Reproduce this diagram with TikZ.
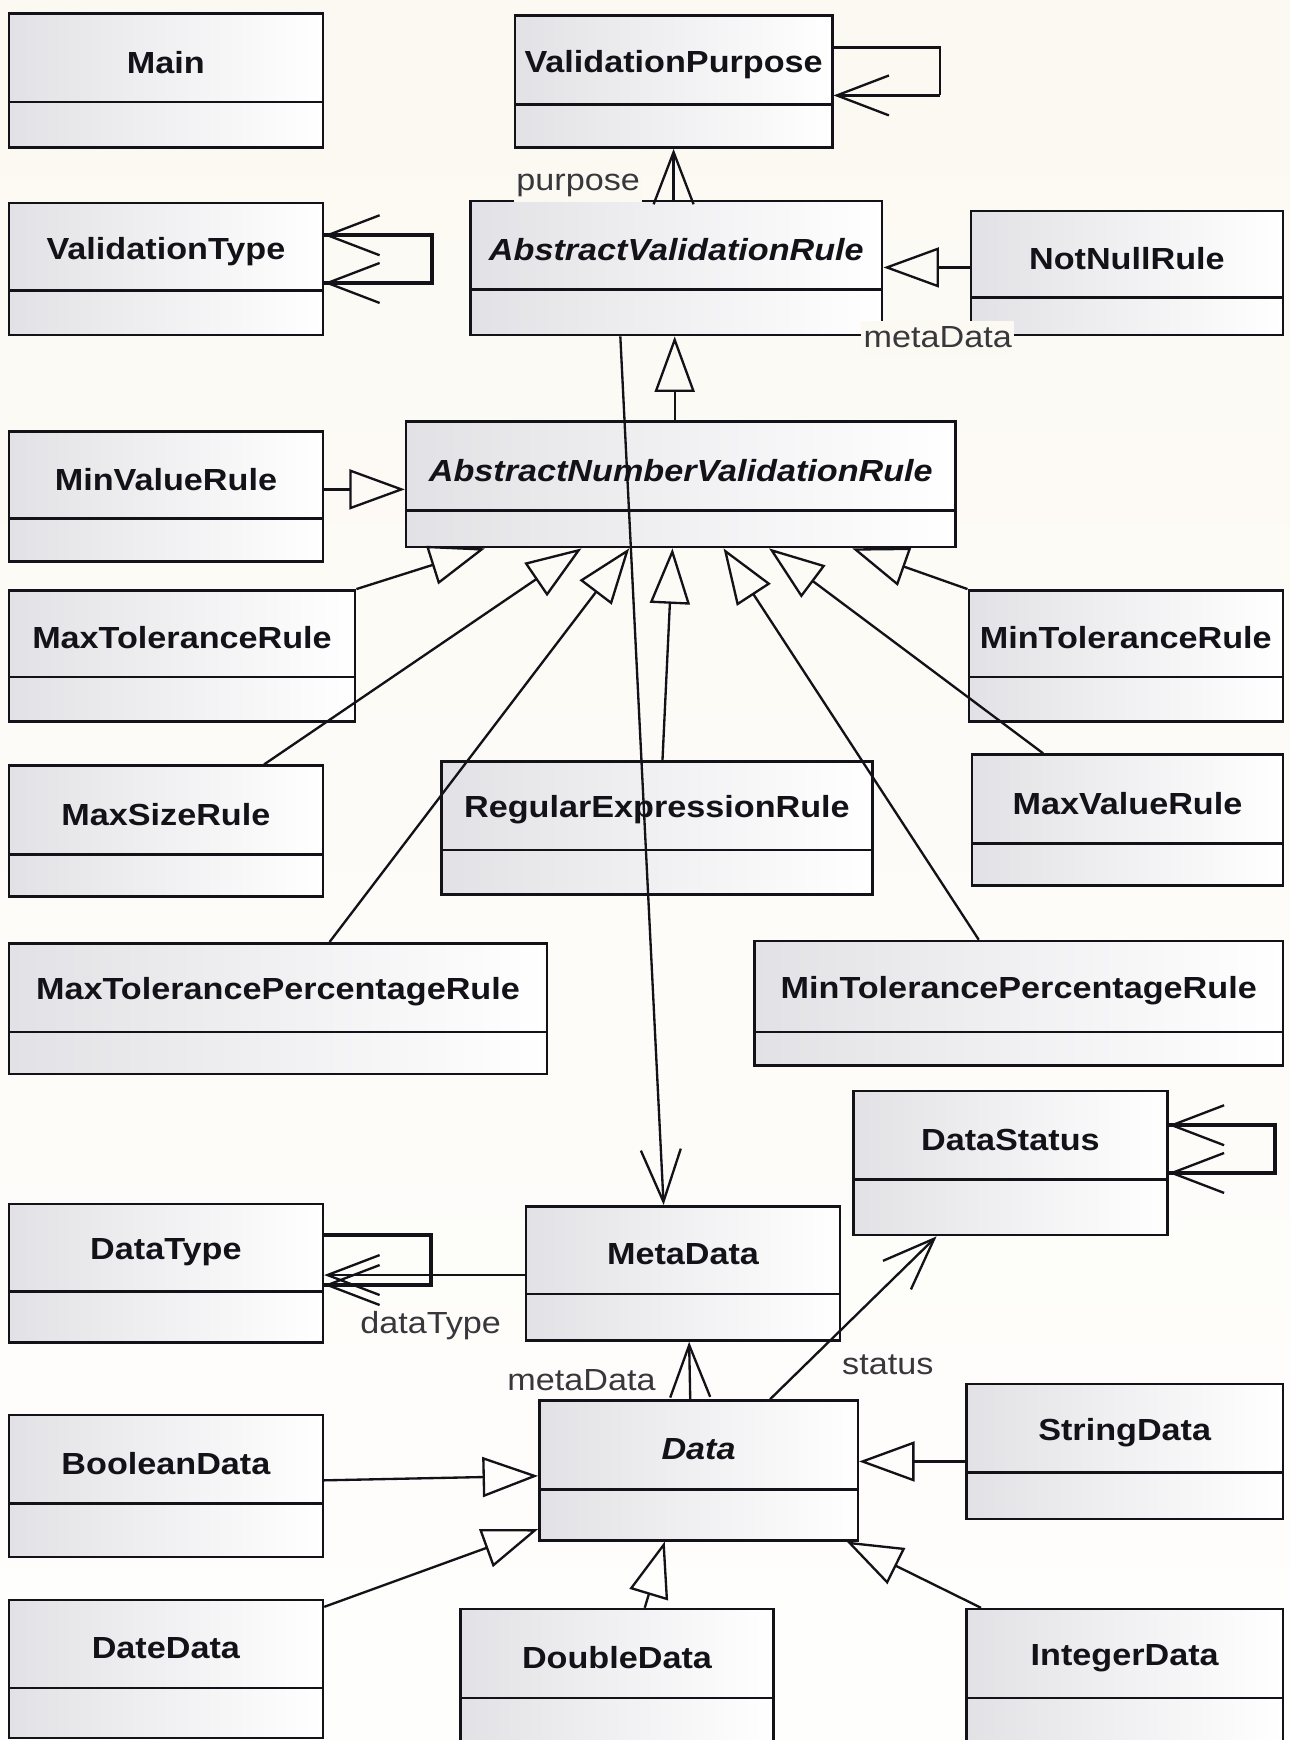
\documentclass[tikz,border=0pt]{standalone}
\usepackage{fontspec}
\setmainfont{Liberation Sans}[FakeStretch=1.12]
\usetikzlibrary{arrows.meta,fit,calc}
\definecolor{bgtop}{RGB}{252,249,242}
\definecolor{bgbot}{RGB}{254,254,253}
\definecolor{clsL}{RGB}{226,226,230}
\definecolor{clsM}{RGB}{245,245,247}
\definecolor{ink}{RGB}{18,18,24}
\definecolor{rolec}{RGB}{55,55,60}
\tikzset{
  cls/.style={draw=ink, line width=2.3pt, inner sep=0pt, left color=clsL, middle color=clsM, right color=white},
  divline/.style={draw=ink, line width=2.3pt},
  ttl/.style={font=\fontsize{27.5}{30}\selectfont\bfseries, text=ink, inner sep=0pt},
  ittl/.style={font=\fontsize{27.5}{30}\selectfont\bfseries\itshape, text=ink, inner sep=0pt},
  role/.style={font=\fontsize{27.5}{30}\selectfont, text=rolec, inner sep=1pt},
  rolefill/.style={role, fill=bgtop, inner xsep=2pt, inner ysep=5pt},
  gen/.style={draw=ink, line width=2.1pt, -{Triangle[open, length=50pt, width=36pt, line width=2.1pt]}},
  assoc/.style={draw=ink, line width=2.1pt, -{Straight Barb[length=47pt, width=36pt, line width=2.1pt]}},
  loopline/.style={draw=ink, line width=3.6pt},
  loopthin/.style={draw=ink, line width=2.3pt},
}
\newcommand\umlbox[8]{%
  \node[cls, fit={(#2,#3) (#4,#5)}] (#1) {};
  \draw[divline] (#2,#6) -- (#4,#6);
  \node[#7] (#1-t) at ({(#2+#4)/2},{(#3+#6)/2+4}) {#8};
}
\begin{document}
\begin{tikzpicture}[x=1pt,y=-1pt]
\clip (0,0) rectangle (1162,1568);
\shade[top color=bgtop, bottom color=bgbot] (0,0) rectangle (1162,1568);

% class boxes
\umlbox{main}{8}{12}{291}{133}{92}{ttl}{Main}
\umlbox{vpurp}{464}{14}{750}{133}{94}{ttl}{ValidationPurpose}
\umlbox{vtype}{8}{183}{291}{302}{262}{ttl}{ValidationType}
\umlbox{avr}{424}{181}{795}{302}{261}{ittl}{AbstractValidationRule}
\umlbox{notnull}{875}{190}{1156}{302}{268}{ttl}{NotNullRule}
\umlbox{minval}{8}{389}{291}{506}{467}{ttl}{MinValueRule}
\umlbox{anvr}{366}{380}{861}{493}{460}{ittl}{AbstractNumberValidationRule}
\umlbox{maxtol}{8}{532}{320}{650}{610}{ttl}{MaxToleranceRule}
\umlbox{mintol}{873}{532}{1156}{650}{610}{ttl}{MinToleranceRule}
\umlbox{maxsize}{8}{690}{291}{808}{770}{ttl}{MaxSizeRule}
\umlbox{regex}{398}{686}{786}{806}{766}{ttl}{RegularExpressionRule}
\umlbox{maxval}{876}{680}{1156}{798}{760}{ttl}{MaxValueRule}
\umlbox{maxtolp}{8}{850}{493}{968}{930}{ttl}{MaxTolerancePercentageRule}
\umlbox{mintolp}{680}{848}{1156}{960}{930}{ttl}{MinTolerancePercentageRule}
\umlbox{dstatus}{769}{983}{1052}{1113}{1063}{ttl}{DataStatus}
\umlbox{dtype}{8}{1085}{291}{1210}{1164}{ttl}{DataType}
\umlbox{meta}{474}{1087}{757}{1208}{1166}{ttl}{MetaData}
\umlbox{data}{486}{1262}{773}{1388}{1342}{ittl}{Data}
\umlbox{string}{871}{1247}{1156}{1369}{1327}{ttl}{StringData}
\umlbox{bool}{8}{1275}{291}{1403}{1355}{ttl}{BooleanData}
\umlbox{date}{8}{1442}{291}{1566}{1521}{ttl}{DateData}
\umlbox{double}{415}{1450}{697}{1600}{1530}{ttl}{DoubleData}
\umlbox{integer}{871}{1450}{1156}{1600}{1530}{ttl}{IntegerData}

% self loops
\draw[loopthin] (vpurp.east |- 0,43) -- (847,43) -- (847,86);
\draw[assoc] (847,86) -- (vpurp.east |- 0,86);

\draw[loopline] (vtype.east |- 0,212) -- (389,212) -- (389,255) -- (vtype.east |- 0,255);
\draw[assoc] (340,212) -- (vtype.east |- 0,212);
\draw[assoc] (340,255) -- (vtype.east |- 0,255);

\draw[loopline] (dstatus.east |- 0,1014) -- (1149,1014) -- (1149,1057) -- (dstatus.east |- 0,1057);
\draw[assoc] (1100,1014) -- (dstatus.east |- 0,1014);
\draw[assoc] (1100,1057) -- (dstatus.east |- 0,1057);

\draw[loopline] (dtype.east |- 0,1113) -- (388,1113) -- (388,1158) -- (dtype.east |- 0,1158);
\draw[assoc] (340,1158) -- (dtype.east |- 0,1158);

% associations
\draw[assoc] (avr.north -| 607,0) -- (vpurp.south -| 607,0);
\draw[assoc] (avr.south -| 559,0) -- (meta.north -| 598,0);
\draw[assoc] (meta.west |- 0,1149) -- (dtype.east |- 0,1149);
\draw[assoc] (data.north -| 622,0) -- (meta.south -| 621,0);
\draw[assoc] (data.north -| 694,0) -- (dstatus.south -| 844,0);

% generalizations
\draw[gen] (notnull.west |- 0,241) -- (avr.east |- 0,241);
\draw[gen] (anvr.north -| 608,0) -- (avr.south -| 608,0);
\draw[gen] (minval.east |- 0,441) -- (anvr.west |- 0,441);
\draw[gen] (maxtol.north east) -- (anvr.south -| 437,0);
\draw[gen] (maxsize.north -| 238,0) -- (anvr.south -| 524,0);
\draw[gen] (maxtolp.north -| 297,0) -- (anvr.south -| 567,0);
\draw[gen] (regex.north -| 597,0) -- (anvr.south -| 606,0);
\draw[gen] (mintolp.north -| 882,0) -- (anvr.south -| 652,0);
\draw[gen] (maxval.north -| 940,0) -- (anvr.south -| 693,0);
\draw[gen] (mintol.north west) -- (anvr.south -| 768,0);

\draw[gen] (bool.east |- 0,1334) -- (data.west |- 0,1330);
\draw[gen] (date.north east |- 0,1448) -- (data.west |- 0,1378);
\draw[gen] (double.north -| 581,0) -- (data.south -| 599,0);
\draw[gen] (integer.north -| 884,0) -- (data.south -| 763,0);
\draw[gen] (string.west |- 0,1317) -- (data.east |- 0,1317);

% role names
\node[rolefill] (lpurpose) at (521,167) {purpose};
\node[rolefill] (lmeta1) at (845,304) {metaData};
\node[role] (ldtype) at (388,1195) {dataType};
\node[role] (lmeta2) at (524,1244) {metaData};
\node[role] (lstatus) at (800,1230) {status};
\end{tikzpicture}
\end{document}
